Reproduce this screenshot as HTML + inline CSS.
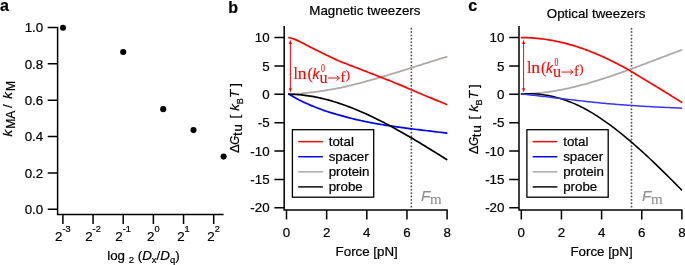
<!DOCTYPE html>
<html><head><meta charset="utf-8"><title>figure</title>
<style>
html,body{margin:0;padding:0;background:#fff;}
svg{display:block;font-family:"Liberation Sans",sans-serif;will-change:transform;}
text{stroke:#000;stroke-width:0.22px;} text.r{stroke:#f00;stroke-width:0.12px} text.g{stroke:#8e8e8e;stroke-width:0.1px}
</style></head><body>
<svg width="685" height="265" viewBox="0 0 685 265">
<rect width="685" height="265" fill="#fff"/>
<path d="M47.7,27.50 H57.6 V214.4 H223.6 M47.7,63.85 H57.6 M47.7,100.20 H57.6 M47.7,136.55 H57.6 M47.7,172.90 H57.6 M47.7,209.25 H57.6 M62.90,214.4 V223.9 M93.06,214.4 V223.9 M123.22,214.4 V223.9 M153.38,214.4 V223.9 M183.54,214.4 V223.9 M213.70,214.4 V223.9" fill="none" stroke="#000" stroke-width="1.5" stroke-linejoin="miter"/>
<text x="43.2" y="32.2" font-size="13.33" text-anchor="end" >1.0</text>
<text x="43.2" y="68.55" font-size="13.33" text-anchor="end" >0.8</text>
<text x="43.2" y="104.9" font-size="13.33" text-anchor="end" >0.6</text>
<text x="43.2" y="141.25" font-size="13.33" text-anchor="end" >0.4</text>
<text x="43.2" y="177.6" font-size="13.33" text-anchor="end" >0.2</text>
<text x="43.2" y="213.95" font-size="13.33" text-anchor="end" >0.0</text>
<text x="62.80" y="240.8" text-anchor="middle" font-size="13.33">2<tspan font-size="9.2" dy="-8.7">-3</tspan></text>
<text x="92.96" y="240.8" text-anchor="middle" font-size="13.33">2<tspan font-size="9.2" dy="-8.7">-2</tspan></text>
<text x="123.12" y="240.8" text-anchor="middle" font-size="13.33">2<tspan font-size="9.2" dy="-8.7">-1</tspan></text>
<text x="153.28" y="240.8" text-anchor="middle" font-size="13.33">2<tspan font-size="9.2" dy="-8.7">0</tspan></text>
<text x="183.44" y="240.8" text-anchor="middle" font-size="13.33">2<tspan font-size="9.2" dy="-8.7">1</tspan></text>
<text x="213.60" y="240.8" text-anchor="middle" font-size="13.33">2<tspan font-size="9.2" dy="-8.7">2</tspan></text>
<circle cx="63.0" cy="27.8" r="3.05" fill="#000"/>
<circle cx="123.2" cy="52.0" r="3.05" fill="#000"/>
<circle cx="163.2" cy="109.15" r="3.05" fill="#000"/>
<circle cx="193.5" cy="130.1" r="3.05" fill="#000"/>
<circle cx="223.6" cy="156.6" r="3.05" fill="#000"/>
<text x="107.2" y="260" font-size="13.33">log <tspan font-size="9.5" dy="2.5">2</tspan><tspan dy="-2.5"> (</tspan><tspan font-style="italic">D</tspan><tspan font-size="9.5" dy="2.5">x</tspan><tspan dy="-2.5">/</tspan><tspan font-style="italic">D</tspan><tspan font-size="9.5" dy="2.5">q</tspan><tspan dy="-2.5">)</tspan></text>
<g transform="translate(12.1,136.6) rotate(-90)">
<text x="0" y="0" font-size="13.33" font-style="italic">k</text>
<text x="7.9" y="3.2" font-size="12">MA</text>
<text x="28.5" y="0" font-size="13.33">/</text>
<text x="37.95" y="0" font-size="13.33" font-style="italic">k</text>
<text x="45.55" y="3.2" font-size="12">M</text>
</g>
<text x="0" y="11" font-size="16" font-weight="bold">a</text>
<text x="228.3" y="12.8" font-size="16" font-weight="bold">b</text>
<text x="468.3" y="11" font-size="16" font-weight="bold">c</text>
<path d="M411.37,28.7 V207.0" stroke="#585858" stroke-width="1.9" stroke-linecap="round" stroke-dasharray="0.01,3.347" fill="none"/>
<path d="M288.98,94.20 L290.75,94.12 L292.52,94.03 L294.30,93.92 L296.07,93.81 L297.84,93.68 L299.61,93.55 L301.38,93.40 L303.16,93.24 L304.93,93.07 L306.70,92.89 L308.47,92.70 L310.25,92.50 L312.02,92.29 L313.79,92.07 L315.56,91.84 L317.33,91.59 L319.11,91.34 L320.88,91.08 L322.65,90.81 L324.42,90.54 L326.19,90.26 L327.97,89.97 L329.74,89.67 L331.51,89.37 L333.28,89.08 L335.06,88.79 L336.83,88.48 L338.60,88.15 L340.37,87.78 L342.14,87.40 L343.92,87.00 L345.69,86.59 L347.46,86.18 L349.23,85.75 L351.00,85.32 L352.78,84.88 L354.55,84.43 L356.32,83.97 L358.09,83.51 L359.87,83.04 L361.64,82.57 L363.41,82.09 L365.18,81.61 L366.95,81.12 L368.73,80.63 L370.50,80.14 L372.27,79.64 L374.04,79.14 L375.81,78.64 L377.59,78.13 L379.36,77.62 L381.13,77.11 L382.90,76.59 L384.68,76.07 L386.45,75.54 L388.22,75.01 L389.99,74.48 L391.76,73.95 L393.54,73.41 L395.31,72.87 L397.08,72.33 L398.85,71.78 L400.62,71.23 L402.40,70.68 L404.17,70.13 L405.94,69.57 L407.71,69.01 L409.49,68.45 L411.26,67.89 L413.03,67.32 L414.80,66.76 L416.57,66.20 L418.35,65.64 L420.12,65.08 L421.89,64.52 L423.66,63.96 L425.43,63.40 L427.21,62.84 L428.98,62.28 L430.75,61.73 L432.52,61.17 L434.30,60.62 L436.07,60.07 L437.84,59.52 L439.61,58.97 L441.38,58.42 L443.16,57.88 L444.93,57.34 L446.70,56.80" fill="none" stroke="#adaaa7" stroke-width="1.8" stroke-linecap="round"/>
<path d="M288.98,94.17 L290.75,95.23 L292.52,96.27 L294.30,97.29 L296.07,98.27 L297.84,99.23 L299.61,100.16 L301.38,101.06 L303.16,101.92 L304.93,102.74 L306.70,103.55 L308.47,104.33 L310.25,105.10 L312.02,105.85 L313.79,106.58 L315.56,107.29 L317.33,107.98 L319.11,108.66 L320.88,109.33 L322.65,109.97 L324.42,110.60 L326.19,111.21 L327.97,111.80 L329.74,112.36 L331.51,112.90 L333.28,113.43 L335.06,113.94 L336.83,114.45 L338.60,114.94 L340.37,115.43 L342.14,115.91 L343.92,116.40 L345.69,116.88 L347.46,117.35 L349.23,117.82 L351.00,118.27 L352.78,118.71 L354.55,119.14 L356.32,119.56 L358.09,119.97 L359.87,120.37 L361.64,120.76 L363.41,121.14 L365.18,121.51 L366.95,121.88 L368.73,122.23 L370.50,122.58 L372.27,122.91 L374.04,123.24 L375.81,123.57 L377.59,123.88 L379.36,124.19 L381.13,124.49 L382.90,124.78 L384.68,125.07 L386.45,125.35 L388.22,125.63 L389.99,125.90 L391.76,126.17 L393.54,126.43 L395.31,126.68 L397.08,126.93 L398.85,127.18 L400.62,127.42 L402.40,127.66 L404.17,127.90 L405.94,128.13 L407.71,128.36 L409.49,128.58 L411.26,128.81 L413.03,129.03 L414.80,129.25 L416.57,129.47 L418.35,129.68 L420.12,129.90 L421.89,130.11 L423.66,130.32 L425.43,130.53 L427.21,130.75 L428.98,130.96 L430.75,131.17 L432.52,131.38 L434.30,131.60 L436.07,131.81 L437.84,132.03 L439.61,132.25 L441.38,132.46 L443.16,132.69 L444.93,132.91 L446.70,133.13" fill="none" stroke="#00f" stroke-width="1.7" stroke-linecap="round"/>
<path d="M288.98,94.20 L290.75,94.24 L292.52,94.30 L294.30,94.38 L296.07,94.48 L297.84,94.61 L299.61,94.76 L301.38,94.93 L303.16,95.12 L304.93,95.33 L306.70,95.56 L308.47,95.82 L310.25,96.10 L312.02,96.39 L313.79,96.71 L315.56,97.04 L317.33,97.40 L319.11,97.78 L320.88,98.17 L322.65,98.58 L324.42,99.02 L326.19,99.47 L327.97,99.93 L329.74,100.42 L331.51,100.92 L333.28,101.45 L335.06,101.98 L336.83,102.54 L338.60,103.11 L340.37,103.70 L342.14,104.31 L343.92,104.93 L345.69,105.56 L347.46,106.21 L349.23,106.88 L351.00,107.56 L352.78,108.26 L354.55,108.97 L356.32,109.69 L358.09,110.43 L359.87,111.19 L361.64,111.95 L363.41,112.73 L365.18,113.52 L366.95,114.33 L368.73,115.14 L370.50,115.97 L372.27,116.81 L374.04,117.66 L375.81,118.53 L377.59,119.40 L379.36,120.29 L381.13,121.19 L382.90,122.09 L384.68,123.01 L386.45,123.94 L388.22,124.87 L389.99,125.82 L391.76,126.77 L393.54,127.74 L395.31,128.71 L397.08,129.69 L398.85,130.68 L400.62,131.68 L402.40,132.68 L404.17,133.69 L405.94,134.71 L407.71,135.74 L409.49,136.77 L411.26,137.81 L413.03,138.85 L414.80,139.91 L416.57,140.96 L418.35,142.02 L420.12,143.09 L421.89,144.16 L423.66,145.24 L425.43,146.32 L427.21,147.40 L428.98,148.49 L430.75,149.59 L432.52,150.68 L434.30,151.78 L436.07,152.88 L437.84,153.99 L439.61,155.09 L441.38,156.20 L443.16,157.31 L444.93,158.43 L446.70,159.54" fill="none" stroke="#000" stroke-width="1.7" stroke-linecap="round"/>
<path d="M288.98,37.68 L290.75,38.04 L292.52,38.53 L294.30,39.14 L296.07,39.85 L297.84,40.64 L299.61,41.49 L301.38,42.39 L303.16,43.31 L304.93,44.24 L306.70,45.16 L308.47,46.08 L310.25,47.00 L312.02,47.91 L313.79,48.80 L315.56,49.69 L317.33,50.58 L319.11,51.47 L320.88,52.35 L322.65,53.22 L324.42,54.09 L326.19,54.94 L327.97,55.78 L329.74,56.61 L331.51,57.43 L333.28,58.28 L335.06,59.12 L336.83,59.95 L338.60,60.74 L340.37,61.47 L342.14,62.17 L343.92,62.87 L345.69,63.57 L347.46,64.25 L349.23,64.94 L351.00,65.62 L352.78,66.31 L354.55,66.99 L356.32,67.67 L358.09,68.36 L359.87,69.05 L361.64,69.74 L363.41,70.43 L365.18,71.12 L366.95,71.80 L368.73,72.49 L370.50,73.18 L372.27,73.87 L374.04,74.56 L375.81,75.25 L377.59,75.95 L379.36,76.64 L381.13,77.34 L382.90,78.04 L384.68,78.74 L386.45,79.43 L388.22,80.13 L389.99,80.83 L391.76,81.53 L393.54,82.24 L395.31,82.95 L397.08,83.67 L398.85,84.39 L400.62,85.12 L402.40,85.87 L404.17,86.63 L405.94,87.39 L407.71,88.16 L409.49,88.94 L411.26,89.71 L413.03,90.48 L414.80,91.25 L416.57,92.02 L418.35,92.77 L420.12,93.51 L421.89,94.24 L423.66,94.98 L425.43,95.71 L427.21,96.44 L428.98,97.18 L430.75,97.91 L432.52,98.64 L434.30,99.38 L436.07,100.11 L437.84,100.84 L439.61,101.57 L441.38,102.30 L443.16,103.03 L444.93,103.76 L446.70,104.49" fill="none" stroke="#f00" stroke-width="1.7" stroke-linecap="round"/>
<path d="M284.2,26.1 V210.05 H447.7 M274.4,37.60 H284.2 M274.4,65.96 H284.2 M274.4,94.32 H284.2 M274.4,122.68 H284.2 M274.4,151.04 H284.2 M274.4,179.40 H284.2 M274.4,207.76 H284.2 M286.50,210.05 V219.6 M326.65,210.05 V219.6 M366.80,210.05 V219.6 M406.95,210.05 V219.6 M447.10,210.05 V219.6" fill="none" stroke="#000" stroke-width="1.5"/>
<text x="269.6" y="42.3" font-size="13.33" text-anchor="end" >10</text>
<text x="269.6" y="70.66" font-size="13.33" text-anchor="end" >5</text>
<text x="269.6" y="99.02" font-size="13.33" text-anchor="end" >0</text>
<text x="269.6" y="127.38" font-size="13.33" text-anchor="end" >-5</text>
<text x="269.6" y="155.74" font-size="13.33" text-anchor="end" >-10</text>
<text x="269.6" y="184.1" font-size="13.33" text-anchor="end" >-15</text>
<text x="269.6" y="212.46" font-size="13.33" text-anchor="end" >-20</text>
<text x="286.5" y="237.3" font-size="13.33" text-anchor="middle" >0</text>
<text x="326.65" y="237.3" font-size="13.33" text-anchor="middle" >2</text>
<text x="366.8" y="237.3" font-size="13.33" text-anchor="middle" >4</text>
<text x="406.95" y="237.3" font-size="13.33" text-anchor="middle" >6</text>
<text x="447.1" y="237.3" font-size="13.33" text-anchor="middle" >8</text>
<text x="335.6" y="255.5" font-size="13.33" text-anchor="start" >Force [pN]</text>
<text x="309.3" y="15.3" font-size="13.33" text-anchor="start" >Magnetic tweezers</text>
<g transform="translate(239.2,152.6) rotate(-90)">
<text x="-0.5" y="0" font-size="13.33">Δ</text>
<text transform="translate(7.9,0) scale(0.86,1)" font-size="13.33" font-style="italic">G</text>
<text x="16.5" y="3.0" font-size="13.33">t</text>
<text x="21.2" y="3.0" font-size="13.33">u</text>
<text x="34.1" y="0" font-size="13.33">[</text>
<text x="41.9" y="0" font-size="13.33" font-style="italic">k</text>
<text x="48.3" y="3.9" font-size="9">B</text>
<text x="54.6" y="0" font-size="13.33" font-style="italic">T</text>
<text x="65.8" y="0" font-size="13.33">]</text>
</g>
<rect x="292.4" y="129.7" width="81.3" height="67.5" fill="#fff" stroke="#000" stroke-width="1.3"/>
<line x1="298.2" y1="141.65" x2="322.9" y2="141.65" stroke="#f00" stroke-width="1.45"/>
<text x="328.7" y="146.2" font-size="13.33" text-anchor="start" >total</text>
<line x1="298.2" y1="156.73" x2="322.9" y2="156.73" stroke="#00f" stroke-width="1.45"/>
<text x="328.7" y="161.05" font-size="13.33" text-anchor="start" >spacer</text>
<line x1="298.2" y1="171.81" x2="322.9" y2="171.81" stroke="#a9a6a2" stroke-width="1.45"/>
<text x="328.7" y="175.9" font-size="13.33" text-anchor="start" >protein</text>
<line x1="298.2" y1="186.89" x2="322.9" y2="186.89" stroke="#000" stroke-width="1.45"/>
<text x="328.7" y="190.75" font-size="13.33" text-anchor="start" >probe</text>
<text x="420.97" y="200.6" class="g" font-size="15.2" font-style="italic" fill="#8e8e8e">F<tspan font-family="Liberation Serif" font-style="normal" font-size="15" dy="3.8" dx="-0.3">m</tspan></text>
<line x1="290.4" y1="42" x2="290.4" y2="90.5" stroke="#f00" stroke-width="1"/>
<path d="M290.4,39.7 l-1.55,4.4 h3.1 z M290.4,92.6 l-1.55,-4.4 h3.1 z" fill="#f00"/>
<text transform="translate(293.60,78.70) scale(1.0,1)" class="r" font-family="Liberation Serif" font-size="16" fill="#f00">l</text>
<text transform="translate(297.70,78.70) scale(1.1,1)" class="r" font-family="Liberation Serif" font-size="16" fill="#f00">n</text>
<text transform="translate(307.40,78.70) scale(1.0,1)" class="r" font-family="Liberation Serif" font-size="16" fill="#f00">(</text>
<text transform="translate(312.60,78.70) scale(1.0,1)" class="r" font-family="Liberation Sans" font-size="14" font-style="italic" fill="#f00">k</text>
<text transform="translate(321.00,72.40) scale(0.66,1)" class="r" font-family="Liberation Serif" font-size="12" fill="#f00">0</text>
<text transform="translate(319.50,82.50) scale(1.0,1)" class="r" font-family="Liberation Serif" font-size="16.2" fill="#f00">u</text>
<text transform="translate(340.40,81.60) scale(1.0,1)" class="r" font-family="Liberation Serif" font-size="14.5" fill="#f00">f</text>
<text transform="translate(345.80,79.40) scale(1.0,1)" class="r" font-family="Liberation Serif" font-size="13" fill="#f00">)</text>
<path d="M328.00,78.05 H339.30 M336.60,75.65 L339.50,78.05 L336.60,80.45" fill="none" stroke="#f00" stroke-width="0.95"/>
<path d="M631.51,28.7 V207.0" stroke="#585858" stroke-width="1.9" stroke-linecap="round" stroke-dasharray="0.01,3.347" fill="none"/>
<path d="M521.50,94.04 L523.30,94.01 L525.10,93.96 L526.90,93.90 L528.70,93.82 L530.49,93.73 L532.29,93.62 L534.09,93.49 L535.89,93.34 L537.69,93.18 L539.49,93.01 L541.29,92.82 L543.09,92.61 L544.89,92.39 L546.68,92.16 L548.48,91.91 L550.28,91.64 L552.08,91.36 L553.88,91.07 L555.68,90.77 L557.48,90.45 L559.28,90.12 L561.08,89.78 L562.87,89.42 L564.67,89.05 L566.47,88.67 L568.27,88.28 L570.07,87.88 L571.87,87.46 L573.67,87.04 L575.47,86.60 L577.27,86.15 L579.06,85.69 L580.86,85.23 L582.66,84.75 L584.46,84.26 L586.26,83.76 L588.06,83.26 L589.86,82.74 L591.66,82.22 L593.46,81.68 L595.25,81.14 L597.05,80.60 L598.85,80.04 L600.65,79.47 L602.45,78.90 L604.25,78.32 L606.05,77.74 L607.85,77.14 L609.64,76.55 L611.44,75.94 L613.24,75.33 L615.04,74.71 L616.84,74.09 L618.64,73.46 L620.44,72.83 L622.24,72.19 L624.04,71.55 L625.83,70.90 L627.63,70.25 L629.43,69.60 L631.23,68.94 L633.03,68.28 L634.83,67.61 L636.63,66.95 L638.43,66.28 L640.23,65.60 L642.02,64.93 L643.82,64.25 L645.62,63.57 L647.42,62.89 L649.22,62.21 L651.02,61.53 L652.82,60.84 L654.62,60.16 L656.42,59.47 L658.21,58.79 L660.01,58.10 L661.81,57.42 L663.61,56.73 L665.41,56.05 L667.21,55.37 L669.01,54.69 L670.81,54.01 L672.61,53.33 L674.40,52.65 L676.20,51.98 L678.00,51.31 L679.80,50.64 L681.60,49.97" fill="none" stroke="#adaaa7" stroke-width="1.8" stroke-linecap="round"/>
<path d="M521.50,94.10 L523.30,93.96 L525.10,93.86 L526.89,93.79 L528.69,93.75 L530.49,93.75 L532.29,93.79 L534.08,93.85 L535.88,93.95 L537.68,94.08 L539.48,94.24 L541.28,94.44 L543.07,94.67 L544.87,94.94 L546.67,95.24 L548.47,95.56 L550.26,95.92 L552.06,96.31 L553.86,96.73 L555.66,97.18 L557.46,97.67 L559.25,98.18 L561.05,98.73 L562.85,99.31 L564.65,99.92 L566.44,100.56 L568.24,101.22 L570.04,101.91 L571.84,102.63 L573.63,103.37 L575.43,104.15 L577.23,104.96 L579.03,105.81 L580.83,106.70 L582.62,107.61 L584.42,108.55 L586.22,109.53 L588.02,110.53 L589.81,111.56 L591.61,112.61 L593.41,113.70 L595.21,114.81 L597.01,115.95 L598.80,117.12 L600.60,118.31 L602.40,119.53 L604.20,120.77 L605.99,122.04 L607.79,123.33 L609.59,124.63 L611.39,125.96 L613.19,127.32 L614.98,128.69 L616.78,130.08 L618.58,131.49 L620.38,132.92 L622.17,134.36 L623.97,135.83 L625.77,137.31 L627.57,138.82 L629.37,140.33 L631.16,141.87 L632.96,143.42 L634.76,144.99 L636.56,146.57 L638.35,148.16 L640.15,149.78 L641.95,151.40 L643.75,153.04 L645.54,154.69 L647.34,156.36 L649.14,158.03 L650.94,159.72 L652.74,161.42 L654.53,163.13 L656.33,164.86 L658.13,166.59 L659.93,168.33 L661.72,170.09 L663.52,171.85 L665.32,173.62 L667.12,175.40 L668.92,177.19 L670.71,178.98 L672.51,180.79 L674.31,182.60 L676.11,184.41 L677.90,186.24 L679.70,188.07 L681.50,189.90" fill="none" stroke="#000" stroke-width="1.55" stroke-linecap="round"/>
<path d="M521.50,93.99 L523.30,94.18 L525.10,94.37 L526.90,94.57 L528.70,94.76 L530.49,94.96 L532.29,95.17 L534.09,95.37 L535.89,95.57 L537.69,95.78 L539.49,95.99 L541.29,96.20 L543.09,96.41 L544.89,96.62 L546.68,96.84 L548.48,97.05 L550.28,97.27 L552.08,97.48 L553.88,97.70 L555.68,97.91 L557.48,98.13 L559.28,98.34 L561.08,98.56 L562.87,98.77 L564.67,98.99 L566.47,99.20 L568.27,99.42 L570.07,99.63 L571.87,99.84 L573.67,100.05 L575.47,100.26 L577.27,100.47 L579.06,100.67 L580.86,100.88 L582.66,101.08 L584.46,101.28 L586.26,101.48 L588.06,101.67 L589.86,101.87 L591.66,102.06 L593.46,102.25 L595.25,102.43 L597.05,102.61 L598.85,102.79 L600.65,102.97 L602.45,103.14 L604.25,103.31 L606.05,103.48 L607.85,103.64 L609.64,103.80 L611.44,103.95 L613.24,104.11 L615.04,104.26 L616.84,104.40 L618.64,104.55 L620.44,104.69 L622.24,104.83 L624.04,104.97 L625.83,105.10 L627.63,105.23 L629.43,105.36 L631.23,105.48 L633.03,105.61 L634.83,105.73 L636.63,105.85 L638.43,105.96 L640.23,106.08 L642.02,106.19 L643.82,106.30 L645.62,106.40 L647.42,106.51 L649.22,106.61 L651.02,106.71 L652.82,106.81 L654.62,106.91 L656.42,107.00 L658.21,107.10 L660.01,107.19 L661.81,107.28 L663.61,107.37 L665.41,107.45 L667.21,107.54 L669.01,107.62 L670.81,107.70 L672.61,107.78 L674.40,107.86 L676.20,107.94 L678.00,108.02 L679.80,108.09 L681.60,108.17" fill="none" stroke="#3835ff" stroke-width="1.5" stroke-linecap="round"/>
<path d="M521.50,37.58 L523.30,37.59 L525.10,37.63 L526.90,37.68 L528.70,37.75 L530.49,37.84 L532.29,37.95 L534.09,38.08 L535.89,38.23 L537.69,38.40 L539.49,38.59 L541.29,38.79 L543.09,39.02 L544.89,39.26 L546.68,39.52 L548.48,39.80 L550.28,40.11 L552.08,40.43 L553.88,40.77 L555.68,41.13 L557.48,41.50 L559.28,41.89 L561.08,42.30 L562.87,42.73 L564.67,43.17 L566.47,43.63 L568.27,44.11 L570.07,44.61 L571.87,45.12 L573.67,45.65 L575.47,46.20 L577.27,46.77 L579.06,47.35 L580.86,47.95 L582.66,48.57 L584.46,49.21 L586.26,49.86 L588.06,50.53 L589.86,51.23 L591.66,51.94 L593.46,52.67 L595.25,53.41 L597.05,54.18 L598.85,54.96 L600.65,55.75 L602.45,56.56 L604.25,57.39 L606.05,58.23 L607.85,59.08 L609.64,59.95 L611.44,60.83 L613.24,61.72 L615.04,62.63 L616.84,63.54 L618.64,64.47 L620.44,65.41 L622.24,66.37 L624.04,67.35 L625.83,68.34 L627.63,69.35 L629.43,70.38 L631.23,71.43 L633.03,72.51 L634.83,73.60 L636.63,74.69 L638.43,75.79 L640.23,76.88 L642.02,77.97 L643.82,79.06 L645.62,80.13 L647.42,81.21 L649.22,82.29 L651.02,83.36 L652.82,84.45 L654.62,85.54 L656.42,86.63 L658.21,87.73 L660.01,88.83 L661.81,89.93 L663.61,91.04 L665.41,92.14 L667.21,93.26 L669.01,94.37 L670.81,95.49 L672.61,96.62 L674.40,97.74 L676.20,98.87 L678.00,100.00 L679.80,101.14 L681.60,102.28" fill="none" stroke="#f00" stroke-width="1.7" stroke-linecap="round"/>
<path d="M519.0,26.1 V210.05 H682.5 M509.2,37.60 H519.0 M509.2,65.96 H519.0 M509.2,94.32 H519.0 M509.2,122.68 H519.0 M509.2,151.04 H519.0 M509.2,179.40 H519.0 M509.2,207.76 H519.0 M521.30,210.05 V219.6 M561.45,210.05 V219.6 M601.60,210.05 V219.6 M641.75,210.05 V219.6 M681.90,210.05 V219.6" fill="none" stroke="#000" stroke-width="1.5"/>
<text x="504.40000000000003" y="42.3" font-size="13.33" text-anchor="end" >10</text>
<text x="504.40000000000003" y="70.66" font-size="13.33" text-anchor="end" >5</text>
<text x="504.40000000000003" y="99.02" font-size="13.33" text-anchor="end" >0</text>
<text x="504.40000000000003" y="127.38" font-size="13.33" text-anchor="end" >-5</text>
<text x="504.40000000000003" y="155.74" font-size="13.33" text-anchor="end" >-10</text>
<text x="504.40000000000003" y="184.1" font-size="13.33" text-anchor="end" >-15</text>
<text x="504.40000000000003" y="212.46" font-size="13.33" text-anchor="end" >-20</text>
<text x="521.3" y="237.3" font-size="13.33" text-anchor="middle" >0</text>
<text x="561.45" y="237.3" font-size="13.33" text-anchor="middle" >2</text>
<text x="601.6" y="237.3" font-size="13.33" text-anchor="middle" >4</text>
<text x="641.75" y="237.3" font-size="13.33" text-anchor="middle" >6</text>
<text x="681.9" y="237.3" font-size="13.33" text-anchor="middle" >8</text>
<text x="570.4000000000001" y="255.5" font-size="13.33" text-anchor="start" >Force [pN]</text>
<text x="546.8" y="18.4" font-size="13.33" text-anchor="start" >Optical tweezers</text>
<g transform="translate(478.05,153.7) rotate(-90)">
<text x="-0.5" y="0" font-size="13.33">Δ</text>
<text transform="translate(7.9,0) scale(0.86,1)" font-size="13.33" font-style="italic">G</text>
<text x="16.5" y="3.0" font-size="13.33">t</text>
<text x="21.2" y="3.0" font-size="13.33">u</text>
<text x="34.1" y="0" font-size="13.33">[</text>
<text x="41.9" y="0" font-size="13.33" font-style="italic">k</text>
<text x="48.3" y="3.9" font-size="9">B</text>
<text x="54.6" y="0" font-size="13.33" font-style="italic">T</text>
<text x="65.8" y="0" font-size="13.33">]</text>
</g>
<rect x="526.9" y="129.7" width="81.3" height="67.5" fill="#fff" stroke="#000" stroke-width="1.3"/>
<line x1="532.6999999999999" y1="141.65" x2="557.4" y2="141.65" stroke="#f00" stroke-width="1.45"/>
<text x="563.1999999999999" y="146.2" font-size="13.33" text-anchor="start" >total</text>
<line x1="532.6999999999999" y1="156.73" x2="557.4" y2="156.73" stroke="#00f" stroke-width="1.45"/>
<text x="563.1999999999999" y="161.05" font-size="13.33" text-anchor="start" >spacer</text>
<line x1="532.6999999999999" y1="171.81" x2="557.4" y2="171.81" stroke="#a9a6a2" stroke-width="1.45"/>
<text x="563.1999999999999" y="175.9" font-size="13.33" text-anchor="start" >protein</text>
<line x1="532.6999999999999" y1="186.89" x2="557.4" y2="186.89" stroke="#000" stroke-width="1.45"/>
<text x="563.1999999999999" y="190.75" font-size="13.33" text-anchor="start" >probe</text>
<text x="642.11" y="200.6" class="g" font-size="15.2" font-style="italic" fill="#8e8e8e">F<tspan font-family="Liberation Serif" font-style="normal" font-size="15" dy="3.8" dx="-0.3">m</tspan></text>
<line x1="523.6" y1="42" x2="523.6" y2="90.5" stroke="#f00" stroke-width="1"/>
<path d="M523.6,39.7 l-1.55,4.4 h3.1 z M523.6,92.6 l-1.55,-4.4 h3.1 z" fill="#f00"/>
<text transform="translate(527.10,72.70) scale(1.0,1)" class="r" font-family="Liberation Serif" font-size="16" fill="#f00">l</text>
<text transform="translate(531.20,72.70) scale(1.1,1)" class="r" font-family="Liberation Serif" font-size="16" fill="#f00">n</text>
<text transform="translate(540.90,72.70) scale(1.0,1)" class="r" font-family="Liberation Serif" font-size="16" fill="#f00">(</text>
<text transform="translate(546.10,72.70) scale(1.0,1)" class="r" font-family="Liberation Sans" font-size="14" font-style="italic" fill="#f00">k</text>
<text transform="translate(554.50,66.40) scale(0.66,1)" class="r" font-family="Liberation Serif" font-size="12" fill="#f00">0</text>
<text transform="translate(553.00,76.50) scale(1.0,1)" class="r" font-family="Liberation Serif" font-size="16.2" fill="#f00">u</text>
<text transform="translate(573.90,75.60) scale(1.0,1)" class="r" font-family="Liberation Serif" font-size="14.5" fill="#f00">f</text>
<text transform="translate(579.30,73.40) scale(1.0,1)" class="r" font-family="Liberation Serif" font-size="13" fill="#f00">)</text>
<path d="M561.50,72.05 H572.80 M570.10,69.65 L573.00,72.05 L570.10,74.45" fill="none" stroke="#f00" stroke-width="0.95"/>
</svg>
</body></html>
